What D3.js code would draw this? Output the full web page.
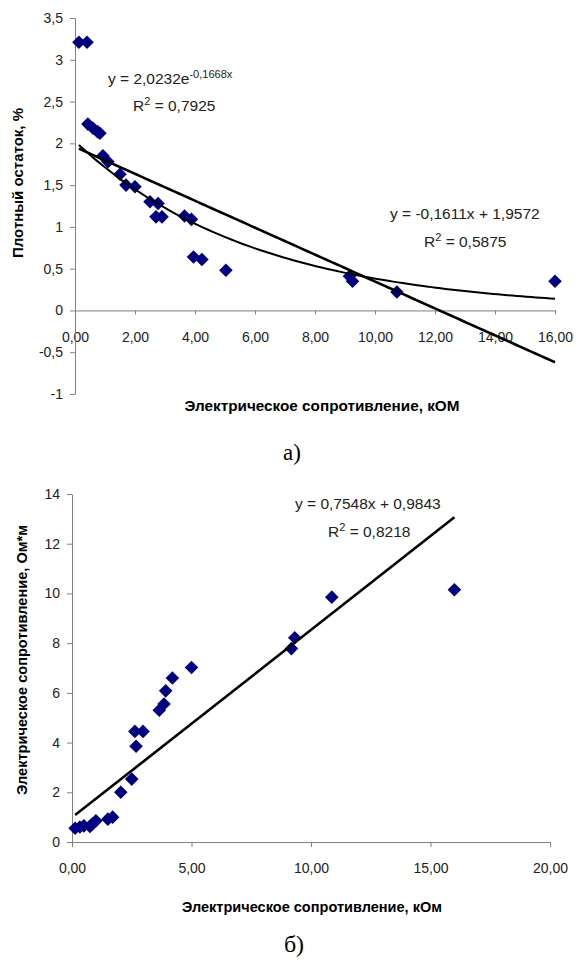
<!DOCTYPE html>
<html>
<head>
<meta charset="utf-8">
<script src="https://cdn.jsdelivr.net/npm/d3@7"></script>
<style>
  body { margin: 0; background: #fff; }
  svg { display: block; font-family: "Liberation Sans", Arial, sans-serif; }
  .tick text { font-size: 14px; fill: #222; }
  .domain, .tick line { stroke: #808080; }
</style>
</head>
<body>
<svg width="576" height="965"></svg>
<script>
// chart a: плотный остаток vs сопротивление
const xA = [0.13, 0.40, 0.43, 0.60, 0.75, 0.83, 0.93, 1.10, 1.50, 1.70, 2.00, 2.50, 2.77, 2.70, 2.90, 3.65, 3.88, 3.95, 4.23, 5.03, 9.15, 9.25, 10.73, 16.00];
const yA = [3.21, 3.21, 2.23, 2.18, 2.14, 2.12, 1.85, 1.78, 1.63, 1.50, 1.48, 1.30, 1.28, 1.12, 1.12, 1.13, 1.09, 0.64, 0.61, 0.48, 0.41, 0.35, 0.22, 0.35];
const ticksXA = [0, 2, 4, 6, 8, 10, 12, 14, 16];
const ticksYA = [-1, -0.5, 0, 0.5, 1, 1.5, 2, 2.5, 3, 3.5];

// chart b: удельное сопротивление vs сопротивление
const xB = [0.13, 0.33, 0.50, 0.75, 0.84, 1.00, 1.50, 1.70, 2.04, 2.50, 2.63, 2.68, 2.97, 3.65, 3.85, 3.92, 4.20, 5.00, 9.18, 9.32, 10.87, 16.00];
const yB = [0.55, 0.60, 0.65, 0.62, 0.72, 0.85, 0.92, 1.00, 2.00, 2.53, 4.45, 3.85, 4.45, 5.30, 5.55, 6.08, 6.60, 7.02, 7.78, 8.22, 9.85, 10.15];
const ticksXB = [0, 5, 10, 15, 20];
const ticksYB = [0, 2, 4, 6, 8, 10, 12, 14];

const svg = d3.select('svg');
const comma = d => String(d).replace('.', ',');
const comma2 = d => d.toFixed(2).replace('.', ',');
const diamond = d3.symbol().type(d3.symbolSquare).size(92);

function drawPoints(g, xs, ys, x, y) {
  g.selectAll('path.pt')
    .data(xs.map((d, i) => [d, ys[i]]))
    .enter()
    .append('path')
      .attr('class', 'pt')
      .attr('d', diamond)
      .attr('fill', '#000080')
      .attr('transform', d => `translate(${x(d[0])},${y(d[1])}) rotate(45)`);
}

// parts: strings are plain text, arrays [txt] are superscripts
function eq(g, px, py, parts) {
  const t = g.append('text')
    .attr('x', px).attr('y', py)
    .attr('font-size', 15.5).attr('fill', '#222');
  let raised = false;
  parts.forEach(p => {
    if (Array.isArray(p)) {
      t.append('tspan').attr('dy', -6).attr('font-size', 11).text(p[0]);
      raised = true;
    } else {
      t.append('tspan').attr('dy', raised ? 6 : null).text(p);
      raised = false;
    }
  });
}

function title(g, x, y, len, rot, txt) {
  g.append('text')
    .attr('transform', `translate(${x},${y})` + (rot ? ' rotate(-90)' : ''))
    .attr('text-anchor', 'middle').attr('font-size', 14).attr('font-weight', 'bold')
    .attr('textLength', len).attr('lengthAdjust', 'spacingAndGlyphs')
    .text(txt);
}

// ---------- а) ----------
const xa = d3.scaleLinear().domain([0, 16]).range([75, 555]);
const ya = d3.scaleLinear().domain([-1, 3.5]).range([394, 18]);
const ga = svg.append('g');

ga.append('g')
  .attr('transform', `translate(0,${ya(0)})`)
  .call(d3.axisBottom(xa).tickValues(ticksXA).tickFormat(comma2).tickSize(4).tickSizeOuter(0).tickPadding(18));
ga.append('g')
  .attr('transform', `translate(${xa(0)},0)`)
  .call(d3.axisLeft(ya).tickValues(ticksYA).tickFormat(comma).tickSize(5).tickSizeOuter(0).tickPadding(7));

const xMinA = d3.min(xA), xMaxA = d3.max(xA);
const linA = x => -0.1611 * x + 1.9572;
const expA = x => 2.0232 * Math.exp(-0.1668 * x);
const samples = d3.range(0, 101).map(i => xMinA + (xMaxA - xMinA) * i / 100);

drawPoints(ga, xA, yA, xa, ya);

// линейный и экспоненциальный тренды
ga.append('path')
  .datum(samples)
  .attr('fill', 'none').attr('stroke', '#000').attr('stroke-width', 2.6)
  .attr('d', d3.line().x(d => xa(d)).y(d => ya(linA(d))));
ga.append('path')
  .datum(samples)
  .attr('fill', 'none').attr('stroke', '#000').attr('stroke-width', 2)
  .attr('d', d3.line().x(d => xa(d)).y(d => ya(expA(d))));

eq(ga, 108, 84, ['y = 2,0232e', ['-0,1668x']]);
eq(ga, 133, 111, ['R', ['2'], ' = 0,7925']);
eq(ga, 390, 219, ['y = -0,1611x + 1,9572']);
eq(ga, 424, 247, ['R', ['2'], ' = 0,5875']);

title(ga, 322, 411, 275, false, 'Электрическое сопротивление, кОМ');
title(ga, 23, 183, 150, true, 'Плотный остаток, %');
ga.append('text')
  .attr('x', 292).attr('y', 460)
  .attr('text-anchor', 'middle').attr('font-size', 23)
  .attr('font-family', '"Liberation Serif", "Times New Roman", serif')
  .text('а)');

// ---------- б) ----------
const xb = d3.scaleLinear().domain([0, 20]).range([72, 550]);
const yb = d3.scaleLinear().domain([0, 14]).range([842, 494]);
const gb = svg.append('g');

gb.append('g')
  .attr('transform', `translate(0,${yb(0)})`)
  .call(d3.axisBottom(xb).tickValues(ticksXB).tickFormat(comma2).tickSize(5).tickSizeOuter(0).tickPadding(16));
gb.append('g')
  .attr('transform', `translate(${xb(0)},0)`)
  .call(d3.axisLeft(yb).tickValues(ticksYB).tickSize(5).tickSizeOuter(0).tickPadding(7));

const xMinB = d3.min(xB), xMaxB = d3.max(xB);
const linB = x => 0.7548 * x + 0.9843;

drawPoints(gb, xB, yB, xb, yb);

gb.append('line')
  .attr('x1', xb(xMinB)).attr('y1', yb(linB(xMinB)))
  .attr('x2', xb(xMaxB)).attr('y2', yb(linB(xMaxB)))
  .attr('stroke', '#000').attr('stroke-width', 2.6);

eq(gb, 295, 509, ['y = 0,7548x + 0,9843']);
eq(gb, 328, 537, ['R', ['2'], ' = 0,8218']);

title(gb, 312, 912, 260, false, 'Электрическое сопротивление, кОм');
title(gb, 27, 660, 270, true, 'Электрическое сопротивление, Ом*м');
gb.append('text')
  .attr('x', 294).attr('y', 952)
  .attr('text-anchor', 'middle').attr('font-size', 24)
  .attr('font-family', '"Liberation Serif", "Times New Roman", serif')
  .text('б)');
</script>
</body>
</html>
